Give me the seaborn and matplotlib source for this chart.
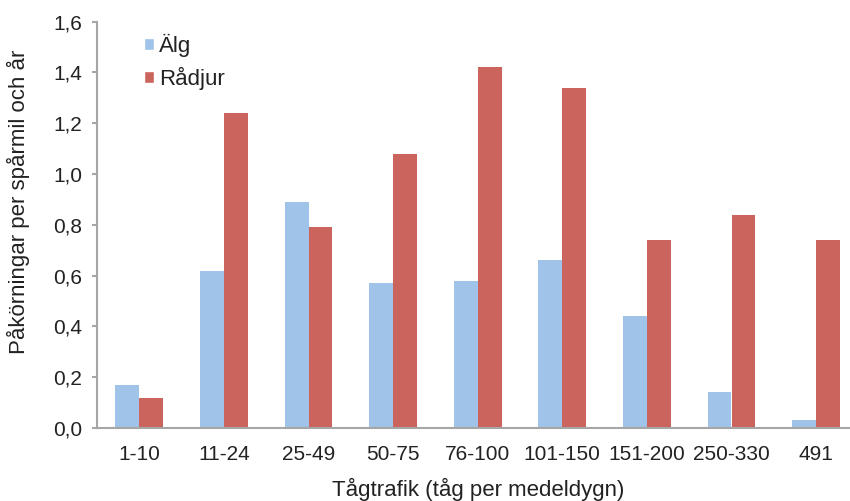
import matplotlib
matplotlib.use("Agg")
import matplotlib.pyplot as plt
from matplotlib.patches import Patch
from matplotlib.ticker import FixedLocator, FuncFormatter
import seaborn as sns
import pandas as pd

categories = ["1-10", "11-24", "25-49", "50-75", "76-100", "101-150",
              "151-200", "250-330", "491"]
alg = [0.17, 0.62, 0.89, 0.57, 0.58, 0.66, 0.44, 0.14, 0.03]
radjur = [0.12, 1.24, 0.79, 1.08, 1.42, 1.34, 0.74, 0.84, 0.74]
series_names = ["Älg", "Rådjur"]
y_ticks = [0.0, 0.2, 0.4, 0.6, 0.8, 1.0, 1.2, 1.4, 1.6]

df = pd.DataFrame({
    "kategori": categories * 2,
    "varde": alg + radjur,
    "art": [series_names[0]] * len(categories) + [series_names[1]] * len(categories),
})

sns.set_theme(style="white")
plt.rcParams["font.family"] = ["Liberation Sans", "DejaVu Sans"]

blue = "#9FC3E9"
red = "#CC645E"
spine_col = "#A6A6A6"
text_col = "#222222"
tick_fs = 15
label_fs = 16

fig = plt.figure(figsize=(8.5, 5.01), dpi=100)
ax = fig.add_axes([97 / 850, 73 / 501, 761.4 / 850, 406.3 / 501])

sns.barplot(data=df, x="kategori", y="varde", hue="art",
            order=categories, hue_order=series_names,
            palette=[blue, red], width=0.567, gap=0,
            saturation=1, linewidth=0, ax=ax, legend=False)

ax.set_xlim(-0.5, len(categories) - 0.5)
ax.set_ylim(0, 1.6)
ax.yaxis.set_major_locator(FixedLocator(y_ticks))
ax.yaxis.set_major_formatter(FuncFormatter(lambda v, p: f"{v:.1f}".replace(".", ",")))

# category labels centred, tick marks on the group boundaries
ax.xaxis.set_minor_locator(FixedLocator([i - 0.5 for i in range(len(categories) + 1)]))
ax.tick_params(axis="x", which="major", length=0, pad=12.5, labelsize=tick_fs, labelcolor=text_col)
ax.tick_params(axis="x", which="minor", length=3.6, width=1.5, color=spine_col, direction="out")
ax.tick_params(axis="y", which="major", length=3.6, width=1.5, color=spine_col,
               direction="out", left=True, labelsize=tick_fs, labelcolor=text_col, pad=7)

for side in ["top", "right"]:
    ax.spines[side].set_visible(False)
for side in ["left", "bottom"]:
    ax.spines[side].set_color(spine_col)
    ax.spines[side].set_linewidth(1.5)

ax.set_xlabel("Tågtrafik (tåg per medeldygn)", fontsize=label_fs, color=text_col, labelpad=10)
ax.set_ylabel("Påkörningar per spårmil och år", fontsize=label_fs, color=text_col)
ax.yaxis.set_label_coords(-0.088, 0.556)

handles = [Patch(facecolor=blue, label=series_names[0]),
           Patch(facecolor=red, label=series_names[1])]
ax.legend(handles=handles, loc="upper left", bbox_to_anchor=(0.035, 1.02),
          frameon=False, fontsize=label_fs, handlelength=0.45, handleheight=0.45,
          handletextpad=0.25, labelspacing=0.45, labelcolor=text_col)

fig.savefig("out.png", dpi=100)
